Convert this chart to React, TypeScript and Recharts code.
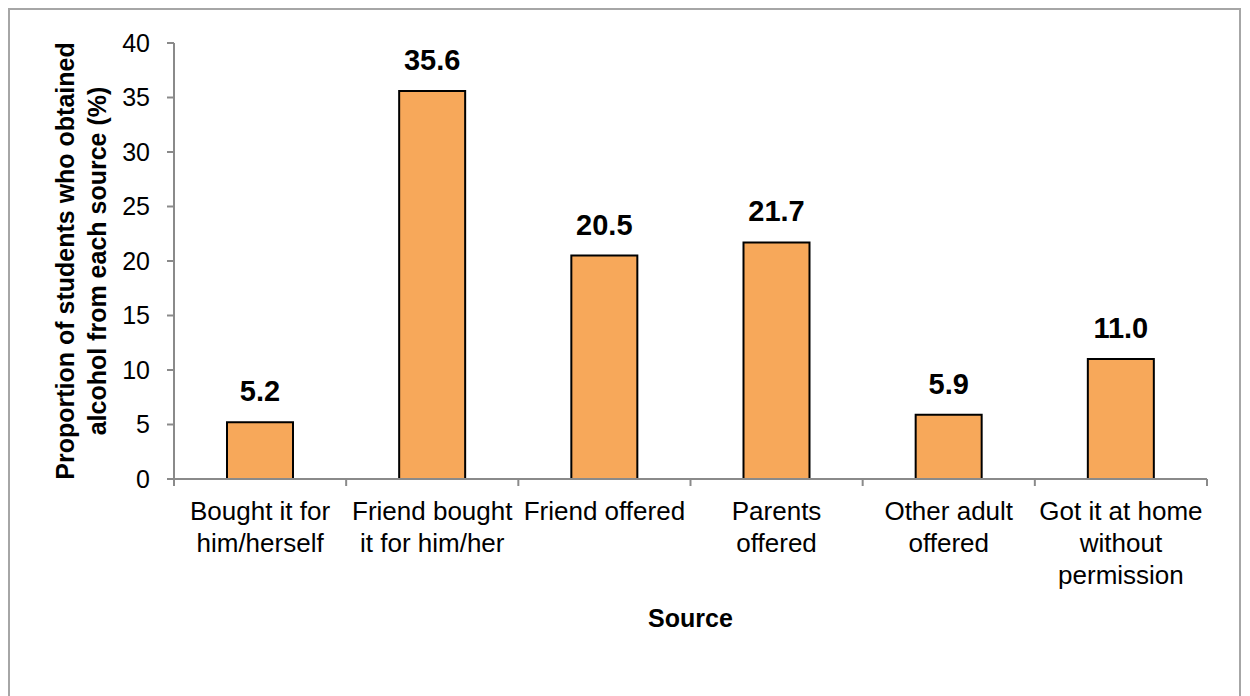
import React from "react";
import { BarChart, Bar, XAxis, YAxis, LabelList, Label } from "recharts";

const categories = [
  "Bought it for\nhim/herself",
  "Friend bought\nit for him/her",
  "Friend offered",
  "Parents\noffered",
  "Other adult\noffered",
  "Got it at home\nwithout\npermission",
];
const values = [5.2, 35.6, 20.5, 21.7, 5.9, 11.0];
const yTicks = [0, 5, 10, 15, 20, 25, 30, 35, 40];
const yTitleLines = ["Proportion of students who obtained", "alcohol from each source (%)"];
const xTitle = "Source";

const data = categories.map((c, i) => ({ name: c, value: values[i] }));

const FONT = "'Liberation Sans', Arial, sans-serif";
const W = 1250;
const H = 696;
const MARGIN = { top: 43, right: 43, left: 114, bottom: 69 };
const Y_W = 60;
const PLOT_W = W - MARGIN.left - MARGIN.right - Y_W;
const BAND = PLOT_W / categories.length;
const AXIS_COLOR = "#8a8a8a";

const XTick = (props: any) => {
  const { x, y, payload, index } = props;
  const lines = String(payload.value).split("\n");
  const left = x - BAND / 2;
  const right = x + BAND / 2;
  return (
    <g>
      <line x1={left} y1={y} x2={left} y2={y + 7} stroke={AXIS_COLOR} strokeWidth={2} />
      {index === categories.length - 1 && (
        <line x1={right} y1={y} x2={right} y2={y + 7} stroke={AXIS_COLOR} strokeWidth={2} />
      )}
      <text x={x} y={y} textAnchor="middle" fontFamily={FONT} fontSize={26} fill="#000">
        {lines.map((l, i) => (
          <tspan key={i} x={x} y={y + 41 + i * 32}>
            {l}
          </tspan>
        ))}
      </text>
    </g>
  );
};

const YTitle = (props: any) => {
  const vb = props.viewBox;
  const cx = vb.x - 24;
  const cy = vb.y + vb.height / 2;
  return (
    <text
      transform={`rotate(-90, ${cx}, ${cy})`}
      x={cx}
      y={cy}
      textAnchor="middle"
      fontFamily={FONT}
      fontSize={25}
      fontWeight="bold"
      fill="#000"
    >
      {yTitleLines.map((l, i) => (
        <tspan key={i} x={cx} y={cy - 16 + i * 32}>
          {l}
        </tspan>
      ))}
    </text>
  );
};

export default function App() {
  return (
    <div style={{ position: "absolute", left: 0, top: 0, width: W, height: H, overflow: "hidden", background: "#fff" }}>
      <div
        style={{
          position: "absolute",
          left: 8,
          top: 8,
          width: 1233,
          height: 760,
          border: "2px solid #a6a6a6",
          boxSizing: "border-box",
        }}
      />
      <div style={{ position: "absolute", left: 0, top: 0 }}>
        <BarChart width={W} height={H} data={data} margin={MARGIN} barSize={66}>
          <XAxis
            dataKey="name"
            interval={0}
            height={148}
            tickLine={false}
            tickSize={0}
            tickMargin={0}
            tick={<XTick />}
            axisLine={{ stroke: AXIS_COLOR, strokeWidth: 2 }}
          >
            <Label
              value={xTitle}
              position="insideBottom"
              offset={0}
              fontFamily={FONT}
              fontSize={25}
              fontWeight="bold"
              fill="#000"
            />
          </XAxis>
          <YAxis
            width={Y_W}
            domain={[0, 40]}
            ticks={yTicks}
            interval={0}
            tickSize={7}
            tickMargin={17}
            tickLine={{ stroke: AXIS_COLOR, strokeWidth: 2 }}
            axisLine={{ stroke: AXIS_COLOR, strokeWidth: 2 }}
            tick={{ fontFamily: FONT, fontSize: 25, fill: "#000" }}
            label={<YTitle />}
          />
          <Bar dataKey="value" fill="#F7A85A" stroke="#000" strokeWidth={2} isAnimationActive={false}>
            <LabelList
              dataKey="value"
              position="top"
              offset={21}
              formatter={(v: any) => Number(v).toFixed(1)}
              fontFamily={FONT}
              fontSize={29}
              fontWeight="bold"
              fill="#000"
            />
          </Bar>
        </BarChart>
      </div>
    </div>
  );
}
